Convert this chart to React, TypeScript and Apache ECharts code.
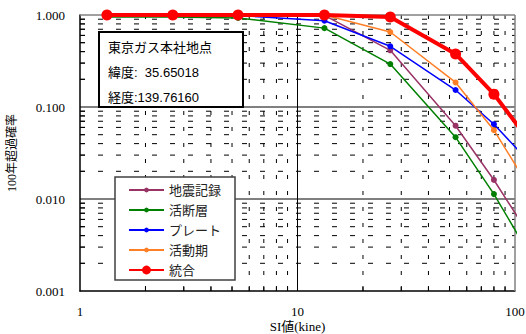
import React, { useEffect, useRef } from "react";
import * as echarts from "echarts";

const siValues = [1.33, 2.67, 5.33, 13.3, 26.7, 53.3, 80, 105];
const seriesNames = ["地震記録", "活断層", "プレート", "活動期", "統合"];
const quakeRecord = [1, 1, 1, 0.99, 0.413, 0.0626, 0.0161, 0.0059];
const activeFault = [0.95, 0.95, 0.93, 0.72, 0.293, 0.047, 0.0113, 0.0038];
const plate = [1, 1, 0.99, 0.867, 0.457, 0.153, 0.065, 0.0327];
const activePeriod = [1, 1, 1, 1, 0.653, 0.185, 0.056, 0.0198];
const combined = [1, 1, 1, 1, 0.95, 0.377, 0.138, 0.059];

const xMinor = [2, 3, 4, 5, 6, 7, 8, 9, 20, 30, 40, 50, 60, 70, 80, 90];
const yMinor = [
  0.002, 0.003, 0.004, 0.005, 0.006, 0.007, 0.008, 0.009,
  0.02, 0.03, 0.04, 0.05, 0.06, 0.07, 0.08, 0.09,
  0.2, 0.3, 0.4, 0.5, 0.6, 0.7, 0.8, 0.9,
];
const xMajor = [10];
const yMajor = [0.01, 0.1];

const infoTitle = "東京ガス本社地点";
const infoLat = "緯度:  35.65018";
const infoLon = "経度:139.76160";

const SERIF = '"Liberation Serif", "Times New Roman", "Noto Sans CJK JP", serif';
const SANS = '"Liberation Sans", Arial, "Noto Sans CJK JP", sans-serif';

export default function App() {
  const ref = useRef<HTMLDivElement>(null);
  useEffect(() => {
    if (!ref.current) return;
    const chart = echarts.init(ref.current, undefined, { renderer: "svg" });

    // [x, y, kind]  kind: 0 vminor,1 hminor,2 vmajor,3 hmajor,4 vborder,5 hborder,6 ytick,7 xtick
    const gridData: number[][] = [];
    xMinor.forEach((v) => {
      gridData.push([v, 1, 0]);
      gridData.push([v, 0.001, 7]);
    });
    yMinor.forEach((v) => {
      gridData.push([1, v, 1]);
      gridData.push([1, v, 6]);
    });
    xMajor.forEach((v) => gridData.push([v, 1, 2]));
    yMajor.forEach((v) => gridData.push([1, v, 3]));
    gridData.push([100, 1, 4]);
    gridData.push([1, 1, 5]);

    const mk = (arr: number[]) =>
      arr.map((y, i) =>
        i === arr.length - 1
          ? { value: [siValues[i], y], symbol: "none" }
          : { value: [siValues[i], y] }
      );

    const colors = ["#993366", "#008000", "#0000ff", "#ff7f27", "#ff0000"];
    const datasets = [quakeRecord, activeFault, plate, activePeriod, combined];

    const lineSeries = datasets.map((d, i) => {
      const isRed = i === 4;
      return {
        name: seriesNames[i],
        type: "line",
        data: mk(d),
        clip: false,
        symbol: "circle",
        symbolSize: isRed ? 11 : 6,
        showSymbol: true,
        lineStyle: { color: colors[i], width: isRed ? 4 : 1.5 },
        itemStyle: { color: colors[i] },
        z: 5 + i,
      };
    });

    const legendText = { fontFamily: SANS, fontSize: 13, color: "#222", lineHeight: 14 };

    chart.setOption({
      animation: false,
      backgroundColor: "#ffffff",
      grid: {
        left: 80,
        top: 15,
        width: 435,
        height: 276,
        containLabel: false,
        outerBoundsMode: "none",
      },
      xAxis: {
        type: "log",
        logBase: 10,
        min: 1,
        max: 100,
        name: "SI値(kine)",
        nameLocation: "middle",
        nameGap: 28,
        nameMoveOverlap: false,
        nameTextStyle: { fontFamily: SERIF, fontSize: 13, color: "#000", lineHeight: 14 },
        axisLine: { lineStyle: { color: "#000", width: 1.5 } },
        axisTick: { show: false },
        splitLine: { show: false },
        axisLabel: {
          fontFamily: SERIF,
          fontSize: 13,
          color: "#000",
          margin: 14,
          formatter: (v: number) => String(Math.round(v)),
        },
      },
      yAxis: {
        type: "log",
        logBase: 10,
        min: 0.001,
        max: 1,
        name: "100年超過確率",
        nameLocation: "middle",
        nameGap: 62,
        nameMoveOverlap: false,
        nameTextStyle: { fontFamily: SERIF, fontSize: 12, color: "#000" },
        axisLine: { lineStyle: { color: "#000", width: 1.5 } },
        axisTick: { show: false },
        splitLine: { show: false },
        axisLabel: {
          fontFamily: SERIF,
          fontSize: 13,
          color: "#000",
          margin: 15,
          formatter: (v: number) => v.toFixed(3),
        },
      },
      legend: [
        {
          data: seriesNames.slice(0, 4),
          orient: "vertical",
          left: 116,
          top: 183,
          padding: [0, 0, 0, 12],
          itemWidth: 35,
          itemHeight: 6,
          itemGap: 6,
          textStyle: legendText,
          z: 20,
        },
        {
          data: seriesNames.slice(4),
          orient: "vertical",
          left: 116,
          top: 263,
          padding: [0, 0, 0, 12],
          itemWidth: 35,
          itemHeight: 11,
          textStyle: legendText,
          z: 20,
        },
      ],
      graphic: [
        {
          type: "rect",
          z: 15,
          shape: { x: 115, y: 177, width: 120, height: 103 },
          style: { fill: "#ffffff", stroke: "#404040", lineWidth: 1.5 },
        },
        {
          type: "rect",
          z: 30,
          shape: { x: 99, y: 32, width: 144, height: 75 },
          style: { fill: "#ffffff", stroke: "#000", lineWidth: 2 },
        },
        {
          type: "text",
          z: 31,
          x: 108,
          y: 47,
          style: {
            text: infoTitle,
            fontFamily: SANS,
            fontSize: 13,
            fill: "#000",
            verticalAlign: "middle",
          },
        },
        {
          type: "text",
          z: 31,
          x: 108,
          y: 72,
          style: {
            text: infoLat,
            fontFamily: SANS,
            fontSize: 13,
            fill: "#000",
            verticalAlign: "middle",
          },
        },
        {
          type: "text",
          z: 31,
          x: 108,
          y: 97,
          style: {
            text: infoLon,
            fontFamily: SANS,
            fontSize: 13,
            fill: "#000",
            verticalAlign: "middle",
          },
        },
      ],
      series: [
        {
          type: "custom",
          coordinateSystem: "cartesian2d",
          silent: true,
          z: 1,
          data: gridData,
          renderItem: (params: any, api: any) => {
            const x = api.value(0);
            const y = api.value(1);
            const kind = api.value(2);
            if (kind === 0 || kind === 2 || kind === 4) {
              const a = api.coord([x, 1]);
              const b = api.coord([x, 0.001]);
              return {
                type: "line",
                shape: { x1: a[0], y1: a[1], x2: b[0], y2: b[1] },
                style: {
                  stroke: kind === 4 ? "#808080" : "#000",
                  lineWidth: kind === 4 ? 1.5 : 1,
                  lineDash: kind === 0 ? [4, 12] : null,
                },
              };
            }
            if (kind === 1 || kind === 3 || kind === 5) {
              const a = api.coord([1, y]);
              const b = api.coord([100, y]);
              return {
                type: "line",
                shape: { x1: a[0], y1: a[1], x2: b[0], y2: b[1] },
                style: {
                  stroke: kind === 5 ? "#808080" : "#000",
                  lineWidth: kind === 5 ? 1.5 : 1,
                  lineDash: kind === 1 ? [5, 13] : null,
                },
              };
            }
            if (kind === 6) {
              const a = api.coord([1, y]);
              return {
                type: "line",
                shape: { x1: a[0], y1: a[1], x2: a[0] + 5, y2: a[1] },
                style: { stroke: "#000", lineWidth: 1 },
              };
            }
            const a = api.coord([x, 0.001]);
            return {
              type: "line",
              shape: { x1: a[0], y1: a[1], x2: a[0], y2: a[1] - 5 },
              style: { stroke: "#000", lineWidth: 1 },
            };
          },
        },
        ...lineSeries,
      ],
    });
    return () => chart.dispose();
  }, []);
  return (
    <div
      ref={ref}
      style={{ position: "fixed", left: 0, top: 0, width: 526, height: 334 }}
    />
  );
}
